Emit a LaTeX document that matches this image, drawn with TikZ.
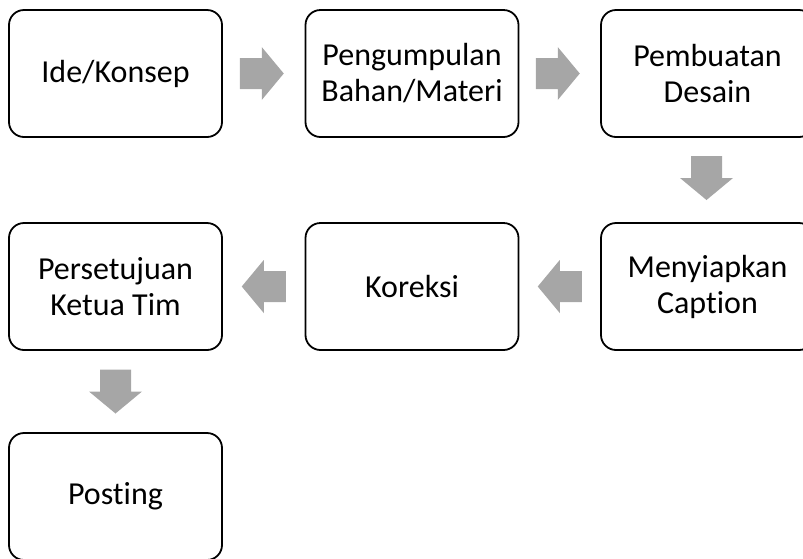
\documentclass[tikz,border=0pt]{standalone}
\usepackage{fontspec}
\setmainfont[Ligatures={NoCommon,NoRequired,NoContextual}]{Carlito}
\usetikzlibrary{calc}
\definecolor{arrowgray}{HTML}{A6A6A6}
\tikzset{
  stepbox/.style={draw=black, line width=1.8pt, rounded corners=15pt, fill=white,
    minimum width=213pt, minimum height=127pt, align=center, inner sep=0pt,
    font=\fontsize{32}{36}\selectfont},
  blockarrow/.pic={\fill[arrowgray] (-22,15.5) -- (0,15.5) -- (0,26.5) -- (22,0)
     -- (0,-26.5) -- (0,-15.5) -- (-22,-15.5) -- cycle;}
}
\begin{document}
\begin{tikzpicture}[x=1pt,y=-1pt]
\useasboundingbox (0,0) rectangle (803,558);
\node[stepbox] (b1) at (115.5,73.5) {Ide/Konsep};
\node[stepbox] (b2) at (412,73.5) {Pengumpulan\\Bahan/Materi};
\node[stepbox] (b3) at (707.5,73.5) {Pembuatan\\Desain};
\node[stepbox] (b4) at (707.5,286.5) {Menyiapkan\\Caption};
\node[stepbox] (b5) at (412,286.5) {Koreksi};
\node[stepbox] (b6) at (115.5,286.5) {Persetujuan\\Ketua Tim};
\node[stepbox] (b7) at (115.5,496.5) {Posting};
\pic at ($(b1.east)!0.5!(b2.west)+(-2,0)$) {blockarrow};
\pic at ($(b2.east)!0.5!(b3.west)+(-2,0)$) {blockarrow};
\pic[rotate=-90] at ($(b3.south)!0.5!(b4.north)+(-1,-2)$) {blockarrow};
\pic[rotate=180] at ($(b4.west)!0.5!(b5.east)$) {blockarrow};
\pic[rotate=180] at ($(b5.west)!0.5!(b6.east)$) {blockarrow};
\pic[rotate=-90] at ($(b6.south)!0.5!(b7.north)$) {blockarrow};
\end{tikzpicture}
\end{document}
